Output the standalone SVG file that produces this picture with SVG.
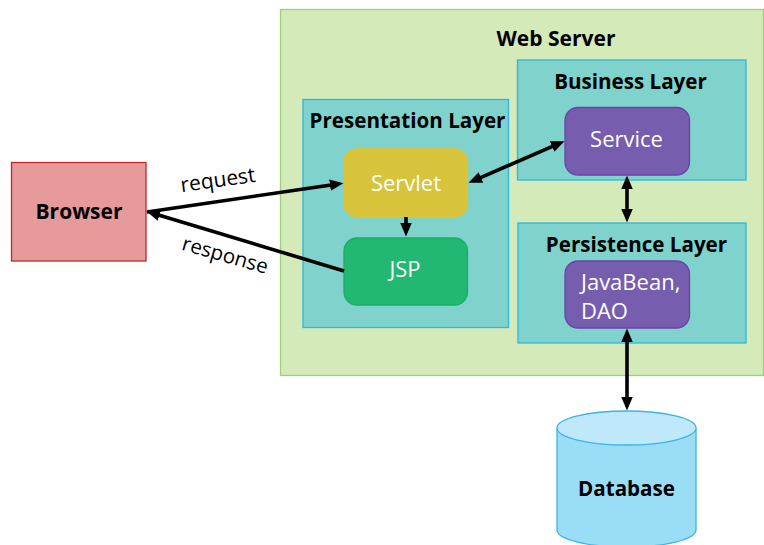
<svg xmlns="http://www.w3.org/2000/svg" width="764" height="545" viewBox="0 0 764 545">
<style>
.t{font-family:"Open Sans","Noto Sans","Liberation Sans",sans-serif;}
.b{font-weight:bold;fill:#000;}
.w{fill:#fff;}
.layer{fill:#7FD3CC;stroke:#2DB7DE;stroke-width:1.3;}
.conn{stroke:#000;stroke-width:3.6;fill:none;}
</style>
<defs>
<marker id="ah" markerUnits="userSpaceOnUse" markerWidth="15" markerHeight="12" refX="1" refY="5.75" orient="auto-start-reverse">
<path d="M0,0 L13.5,5.75 L0,11.5 z" fill="#000"/>
</marker>
</defs>
<rect width="764" height="545" fill="#fff"/>
<g id="web-server">
<rect x="280.5" y="9.5" width="483" height="366" fill="#D4EAB9" stroke="#9DD07A" stroke-width="1.3"/>
<text class="t b" x="556" y="46" font-size="21" text-anchor="middle">Web Server</text>
</g>
<g id="presentation-layer">
<rect class="layer" x="303" y="99.5" width="205.5" height="228"/>
<text class="t b" x="407.5" y="128" font-size="20.6" text-anchor="middle">Presentation Layer</text>
</g>
<g id="business-layer">
<rect class="layer" x="517.5" y="60" width="228.5" height="120"/>
<text class="t b" x="630.5" y="89" font-size="20.6" text-anchor="middle">Business Layer</text>
</g>
<g id="persistence-layer">
<rect class="layer" x="518" y="223" width="228" height="120"/>
<text class="t b" x="636.5" y="252" font-size="20.6" text-anchor="middle">Persistence Layer</text>
</g>
<g id="browser">
<rect x="11.5" y="162.5" width="134.5" height="98.5" fill="#E69A9A" stroke="#C0272D" stroke-width="1.3"/>
<text class="t b" x="79" y="219" font-size="21" text-anchor="middle">Browser</text>
</g>
<g id="servlet">
<rect x="344" y="149" width="123.5" height="67.5" rx="13" fill="#D8C43A" stroke="#E3C22C" stroke-width="1.3"/>
<text class="t w" x="406" y="191" font-size="22" text-anchor="middle">Servlet</text>
</g>
<g id="jsp">
<rect x="344" y="238" width="123.5" height="67" rx="13" fill="#22B874" stroke="#1AAE62" stroke-width="1.3"/>
<text class="t w" x="405" y="277" font-size="22" text-anchor="middle">JSP</text>
</g>
<g id="service">
<rect x="565" y="107.5" width="124.5" height="67.5" rx="13" fill="#765DAD" stroke="#6E40AA" stroke-width="1.3"/>
<text class="t w" x="626.5" y="147" font-size="22" text-anchor="middle">Service</text>
</g>
<g id="javabean-dao">
<rect x="565" y="261" width="124.5" height="67" rx="13" fill="#765DAD" stroke="#6E40AA" stroke-width="1.3"/>
<text class="t w" x="581" y="290" font-size="22">JavaBean,</text>
<text class="t w" x="581" y="319" font-size="22">DAO</text>
</g>
<g id="database">
<path d="M557,428 L557,530 A69.5,17 0 0 0 696,530 L696,428" fill="#9ADDF7" stroke="#3DB4E2" stroke-width="1.3"/>
<ellipse cx="626.5" cy="428" rx="69.5" ry="17" fill="#BFE9FA" stroke="#3DB4E2" stroke-width="1.3"/>
<text class="t b" x="626.5" y="496" font-size="20.6" text-anchor="middle">Database</text>
</g>
<g id="connectors">
<line class="conn" x1="147" y1="212" x2="331" y2="185" marker-end="url(#ah)"/>
<line class="conn" x1="344" y1="271" x2="158.5" y2="215" marker-end="url(#ah)"/>
<line class="conn" x1="480" y1="177.8" x2="553" y2="146.2" marker-start="url(#ah)" marker-end="url(#ah)"/>
<line class="conn" x1="406" y1="217" x2="406" y2="224" marker-end="url(#ah)"/>
<line class="conn" x1="627" y1="188" x2="627" y2="210" marker-start="url(#ah)" marker-end="url(#ah)"/>
<line class="conn" x1="627" y1="341" x2="627" y2="398" marker-start="url(#ah)" marker-end="url(#ah)"/>
<text class="t" x="218" y="187" font-size="21" text-anchor="middle" transform="rotate(-8 218 181)">request</text>
<text class="t" x="225" y="262" font-size="20.5" text-anchor="middle" transform="rotate(16 225 256)">response</text>
</g>
</svg>
